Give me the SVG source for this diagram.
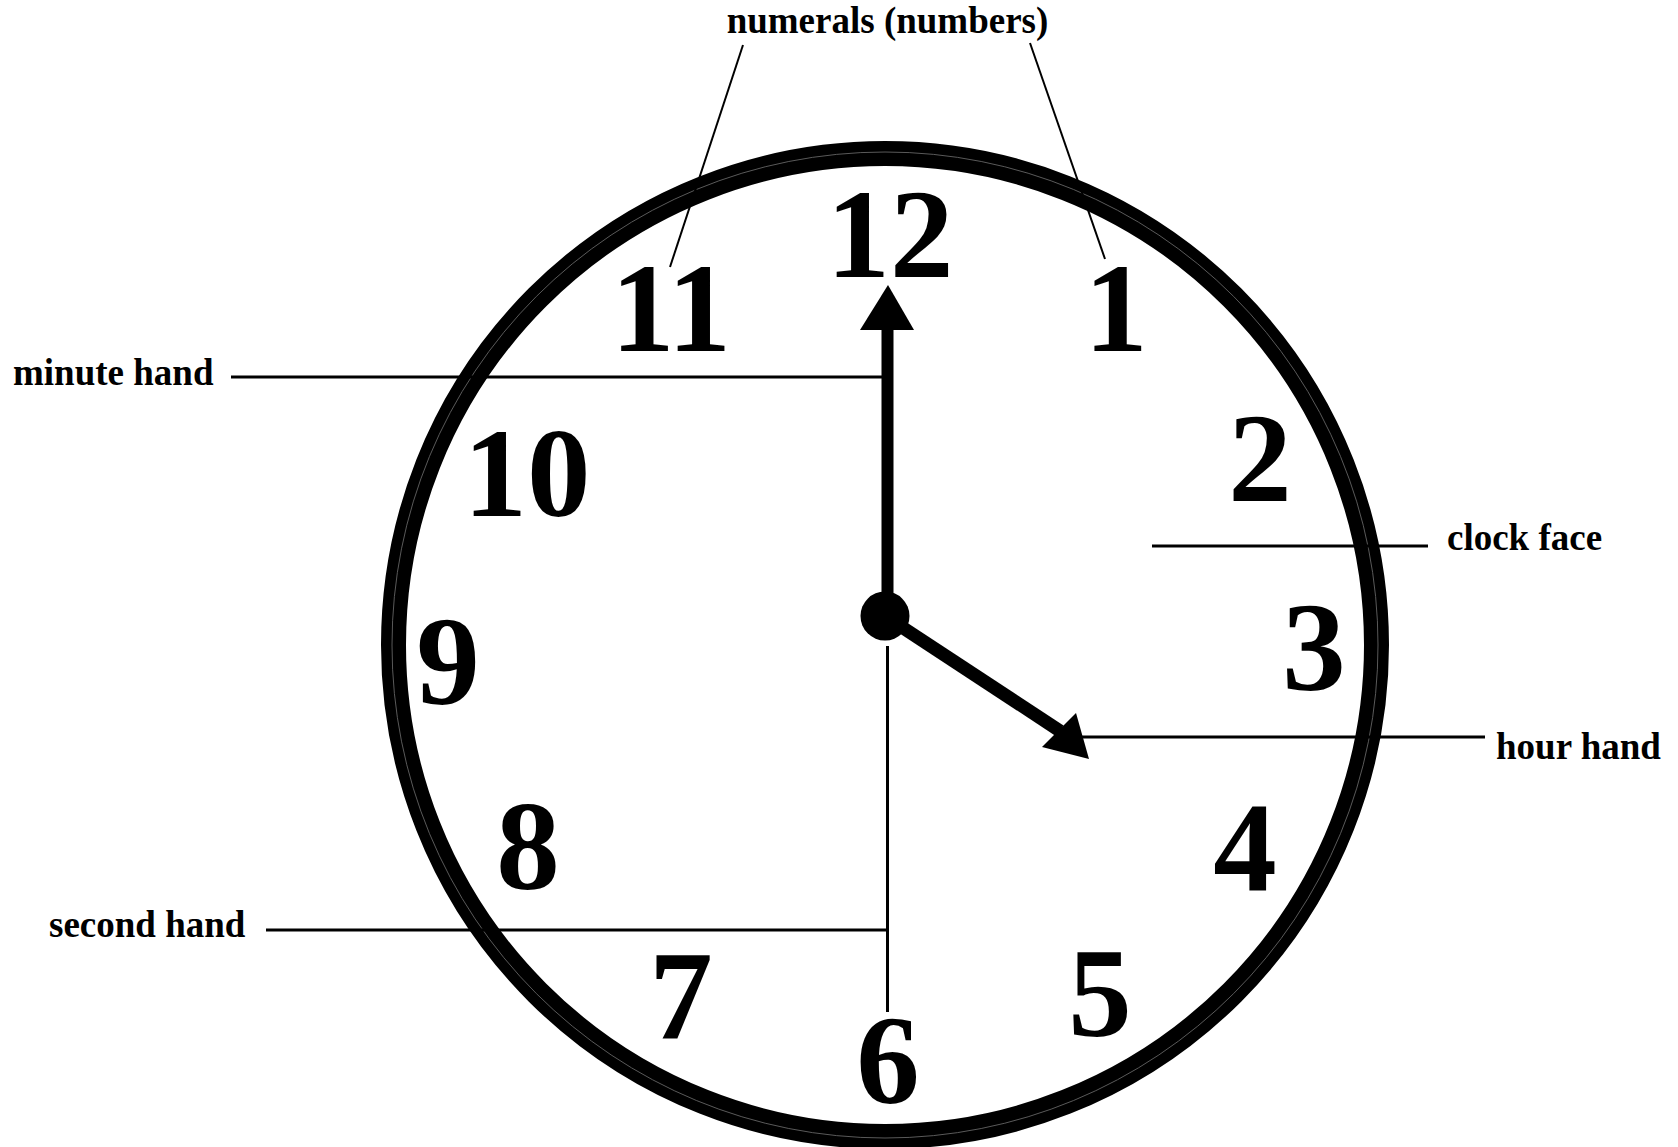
<svg xmlns="http://www.w3.org/2000/svg" width="1678" height="1147" viewBox="0 0 1678 1147">
<style>
.num{font-family:"Liberation Serif","Times New Roman",serif;font-weight:bold;font-size:127px;fill:#000;text-anchor:middle}
.lbl{font-family:"Liberation Serif","Times New Roman",serif;font-weight:bold;font-size:37px;fill:#000}
.lead{stroke:#000;stroke-width:3;fill:none}
.thin{stroke:#000;stroke-width:2;fill:none}
</style>
<rect width="1678" height="1147" fill="#fff"/>
<g id="clock-face">
<circle cx="885" cy="645" r="491.5" fill="none" stroke="#000" stroke-width="25"/>
<circle cx="885" cy="645" r="493" fill="none" stroke="#5a5a5a" stroke-width="1"/>
</g>
<g id="numerals">
<text class="num" x="890" y="277">12</text>
<text class="num" x="671" y="351">11</text>
<text class="num" x="1116" y="351">1</text>
<text class="num" x="527" y="516">10</text>
<text class="num" x="1260" y="501">2</text>
<text class="num" x="448" y="704">9</text>
<text class="num" x="1314" y="690">3</text>
<text class="num" x="528" y="889">8</text>
<text class="num" x="1245" y="890">4</text>
<text class="num" x="681" y="1039">7</text>
<text class="num" x="1100" y="1036">5</text>
<text class="num" x="888" y="1103">6</text>
</g>
<g id="second-hand">
<line x1="887.5" y1="646" x2="887.5" y2="1012" stroke="#000" stroke-width="3"/>
</g>
<g id="minute-hand">
<line x1="887.5" y1="616" x2="887.5" y2="328" stroke="#000" stroke-width="12"/>
<polygon points="888,285 914,330 860,330" fill="#000"/>
</g>
<g id="hour-hand">
<line x1="885" y1="616" x2="1060" y2="731" stroke="#000" stroke-width="13"/>
<polygon points="1089,759 1076,713 1042,747" fill="#000"/>
</g>
<g id="hub">
<circle cx="885" cy="616" r="24.5" fill="#000"/>
</g>
<g id="labels">
<text class="lbl" x="887.5" y="33" text-anchor="middle">numerals (numbers)</text>
<text class="lbl" x="13" y="385">minute hand</text>
<text class="lbl" x="1447" y="550">clock face</text>
<text class="lbl" x="1496" y="759">hour hand</text>
<text class="lbl" x="49" y="937">second hand</text>
</g>
<g id="connectors">
<line class="thin" x1="743" y1="45" x2="670" y2="267"/>
<line class="thin" x1="1030" y1="43" x2="1105" y2="259"/>
<line class="lead" x1="231" y1="377" x2="882" y2="377"/>
<line class="lead" x1="1152" y1="546" x2="1428" y2="546"/>
<line class="lead" x1="1082" y1="737" x2="1485" y2="737"/>
<line class="lead" x1="266" y1="930" x2="887" y2="930"/>
</g>
</svg>
